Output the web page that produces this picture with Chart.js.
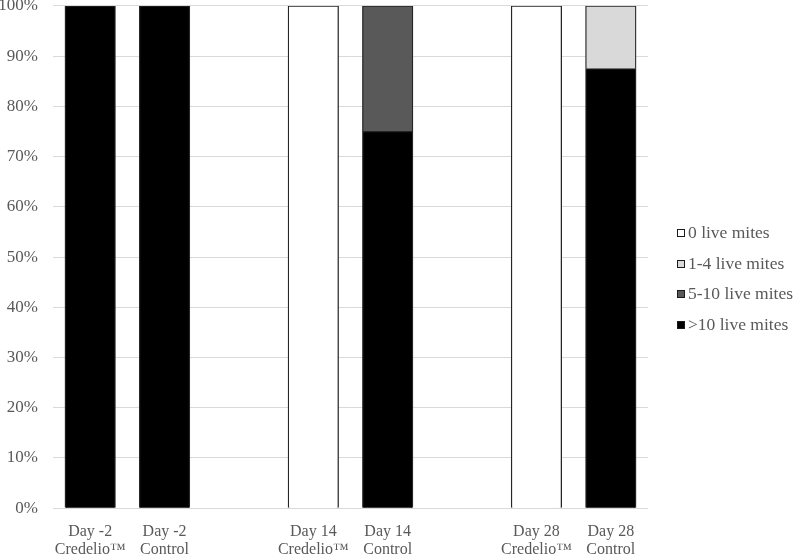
<!DOCTYPE html>
<html>
<head>
<meta charset="utf-8">
<script src="https://cdn.jsdelivr.net/npm/chart.js@4"></script>
<style>
  body { margin:0; background:#fff; }
  #wrap { position:relative; width:795px; height:556px; overflow:hidden; }
  #legend { position:absolute; left:677px; top:0; font-family:"Liberation Serif", serif; font-size:17.5px; color:#595959; }
  .lg { position:absolute; left:0; white-space:nowrap; height:20px; line-height:20px; }
  .lg i { display:inline-block; box-sizing:border-box; width:8px; height:8px; border:1.5px solid #1a1a1a; margin-right:3px; vertical-align:1px; }
</style>
</head>
<body>
<div id="wrap">
  <canvas id="c"></canvas>
  <div id="legend"></div>
</div>
<script>
// categories (empty slots make the gaps between days)
const labels = [
  ['Day -2', 'Credelio™'], ['Day -2', 'Control'], '',
  ['Day 14', 'Credelio™'], ['Day 14', 'Control'], '',
  ['Day 28', 'Credelio™'], ['Day 28', 'Control']
];
// percentages of dogs, null = nothing drawn
const zeroMites   = [null, null, null, 100, null, null, 100, null];
const oneToFour   = [null, null, null, null, null, null, null, 12.5];
const fiveToTen   = [null, null, null, null, 25, null, null, null];
const overTen     = [100, 100, null, null, 75, null, null, 87.5];
const yTicks = [0, 10, 20, 30, 40, 50, 60, 70, 80, 90, 100];

const series = [
  { label: '>10 live mites', data: overTen, color: '#000000' },
  { label: '5-10 live mites', data: fiveToTen, color: '#595959' },
  { label: '1-4 live mites', data: oneToFour, color: '#d9d9d9' },
  { label: '0 live mites', data: zeroMites, color: '#ffffff' }
];

const serif = '"Liberation Serif", "Times New Roman", serif';

new Chart(document.getElementById('c'), {
  type: 'bar',
  data: {
    labels,
    datasets: series.map(s => ({
      label: s.label, data: s.data, backgroundColor: s.color,
      borderColor: '#262626', borderWidth: 1.3, inflateAmount: 0.5,
      categoryPercentage: 1, barPercentage: 0.675
    }))
  },
  options: {
    responsive: true, maintainAspectRatio: false, animation: false,
    layout: { padding: { left: 0, right: 147, top: 0, bottom: -3 } },
    plugins: { legend: { display: false }, tooltip: { enabled: false } },
    scales: {
      x: {
        stacked: true,
        grid: { display: true, drawOnChartArea: false, drawTicks: true, tickLength: 14, color: 'transparent', tickColor: 'transparent' },
        border: { display: false },
        ticks: { color: '#595959', padding: 0, maxRotation: 0, autoSkip: false,
          font: { family: serif, size: 16, lineHeight: 1.15 } }
      },
      y: {
        stacked: true, min: 0, max: 100,
        afterBuildTicks: sc => { sc.ticks = yTicks.map(v => ({ value: v })); },
        afterFit: sc => { sc.width = 53; },
        grid: { color: '#d9d9d9', lineWidth: 1, drawTicks: true, tickLength: 15, tickColor: 'transparent' },
        border: { display: false },
        ticks: { color: '#595959', padding: 0, callback: v => v + '%',
          font: { family: serif, size: 17, lineHeight: 0.7 } }
      }
    }
  }
});

// legend, in the reference order (top to bottom)
const legendCenters = [232, 262.5, 293, 323.5];
const lg = document.getElementById('legend');
series.slice().reverse().forEach((s, i) => {
  const d = document.createElement('div');
  d.className = 'lg';
  d.style.top = (legendCenters[i] - 10) + 'px';
  d.innerHTML = '<i style="background:' + s.color + '"></i>' + s.label.replace('>', '&gt;');
  lg.appendChild(d);
});
</script>
</body>
</html>
